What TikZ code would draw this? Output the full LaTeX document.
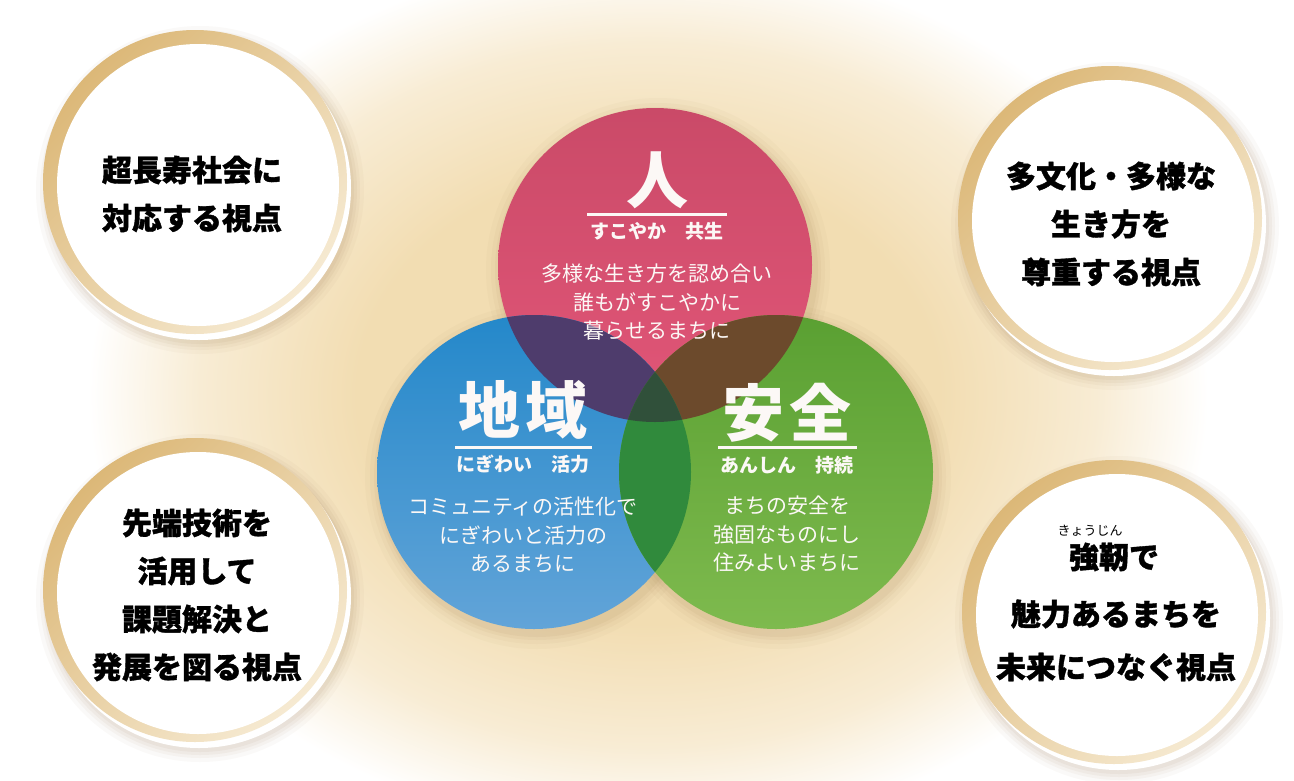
\documentclass[tikz,border=0pt]{standalone}
\usepackage{fontspec}
\newfontfamily\jp{Noto Sans CJK JP}
\newfontfamily\jpheavy{Noto Sans CJK JP}[BoldFeatures={FakeBold=1.2}]
\definecolor{glowc}{RGB}{242,221,178}
\definecolor{glowm}{RGB}{248,236,212}
\definecolor{pinkT}{RGB}{202,74,104}
\definecolor{pinkB}{RGB}{226,86,120}
\definecolor{blueT}{RGB}{36,136,202}
\definecolor{blueB}{RGB}{98,164,216}
\definecolor{greenT}{RGB}{90,160,50}
\definecolor{greenB}{RGB}{126,186,78}
\definecolor{pbc}{RGB}{78,60,108}
\definecolor{pgc}{RGB}{108,74,44}
\definecolor{bgc}{RGB}{48,138,60}
\definecolor{tric}{RGB}{48,80,58}
\definecolor{ringA}{RGB}{220,184,120}
\definecolor{ringB}{RGB}{246,234,210}
\definecolor{shadc}{RGB}{140,105,60}
\definecolor{txtw}{RGB}{252,248,246}
\pgfdeclareradialshading{glow}{\pgfpoint{0bp}{0bp}}{color(0bp)=(glowc); color(13bp)=(glowc); color(20bp)=(glowm); color(25bp)=(white); color(50bp)=(white)}
\begin{document}
\begin{tikzpicture}[x=1pt,y=-1pt,
  vcirc/.style={circle, minimum size=314pt, inner sep=0pt, outer sep=0pt},
  ringc/.style={circle, minimum size=304pt, inner sep=0pt, outer sep=0pt, top color=ringA, bottom color=ringB, shading angle=45},
  platec/.style={circle, minimum size=282pt, inner sep=0pt, outer sep=0pt, fill=white},
  ctext/.style={font=\jpheavy\bfseries\fontsize{30}{48}\selectfont, align=center, text=black, inner sep=0pt},
  rubyt/.style={font=\jp\fontsize{13}{13}\selectfont, text=black, inner sep=0pt},
  vtitle/.style={font=\jp\bfseries\fontsize{62}{62}\selectfont, text=txtw, inner sep=0pt},
  vsub/.style={font=\jp\bfseries\fontsize{19}{19}\selectfont, text=txtw, inner sep=0pt},
  vbody/.style={font=\jp\fontsize{21}{28.5}\selectfont, text=txtw, align=center, inner sep=0pt},
  uline/.style={draw=txtw, line width=3pt},
]
\useasboundingbox (0,0) rectangle (1294,780);
\fill[white] (0,0) rectangle (1294,780);
% central glow
\shade[shading=glow] (648,395) ellipse [x radius=560, y radius=440];

% corner circles
\foreach \cx/\cy/\nm in {195/182/tl, 1110/218/tr, 195/590/bl, 1114/612/br}{
  \foreach \r/\o in {164/0.035,160/0.045,157/0.055,154/0.06}
    \fill[shadc, opacity=\o] (\cx+5,\cy+8) circle (\r);
  \fill[white] (\cx+4,\cy+6) circle (152);
  \node[ringc] (\nm-ring) at (\cx,\cy) {};
  \node[platec] (\nm-plate) at (\cx+3,\cy+3) {};
}

% shadows of the three circles
\foreach \cx/\cy in {655/265, 534/472, 776/472}{
  \foreach \r/\o in {172/0.03,167/0.04,163/0.05,160/0.06}
    \fill[shadc, opacity=\o] (\cx+3,\cy+5) circle (\r);
}

% the three circles
\node[vcirc, top color=pinkT, bottom color=pinkB] (pink) at (655,265) {};
\node[vcirc, top color=blueT, bottom color=blueB] (blue) at (534,472) {};
\node[vcirc, top color=greenT, bottom color=greenB] (green) at (776,472) {};

% overlaps
\begin{scope}
  \clip (pink.center) circle (157);
  \fill[pbc] (blue.center) circle (157);
  \fill[pgc] (green.center) circle (157);
\end{scope}
\begin{scope}
  \clip (blue.center) circle (157);
  \fill[bgc] (green.center) circle (157);
  \clip (green.center) circle (157);
  \fill[tric] (pink.center) circle (157);
\end{scope}

% texts in the circles
\node[vtitle] (hito) at (657,180) {人};
\coordinate (hitoL) at (587,214);
\coordinate (hitoR) at (727,214);
\draw[uline] (hitoL) -- (hitoR);
\node[vsub] (hitosub) at (657,231) {すこやか\hspace{1em}共生};
\node[vbody] (hitobody) at (657,302) {多様な生き方を認め合い\\誰もがすこやかに\\暮らせるまちに};

\node[vtitle] (chiiki) at (523,410) {地\hspace{6pt}域};
\coordinate (chiikiL) at (455,447);
\coordinate (chiikiR) at (592,447);
\draw[uline] (chiikiL) -- (chiikiR);
\node[vsub] (chiikisub) at (523,464) {にぎわい\hspace{1em}活力};
\node[vbody] (chiikibody) at (523,535) {コミュニティの活性化で\\にぎわいと活力の\\あるまちに};

\node[vtitle] (anzen) at (787,413) {安\hspace{6pt}全};
\coordinate (anzenL) at (718,447);
\coordinate (anzenR) at (857,447);
\draw[uline] (anzenL) -- (anzenR);
\node[vsub] (anzensub) at (787,465) {あんしん\hspace{1em}持続};
\node[vbody] (anzenbody) at (787,534) {まちの安全を\\強固なものにし\\住みよいまちに};

% corner texts
\node[ctext] (tl-text) at (192,194) {超長寿社会に\\対応する視点};
\node[ctext] (tr-text) at (1111,224) {多文化・多様な\\生き方を\\尊重する視点};
\node[ctext] (bl-text) at (197,595) {先端技術を\\活用して\\課題解決と\\発展を図る視点};
\node[rubyt] (br-ruby) at (1090,531) {きょうじん};
\node[ctext] (br-text1) at (1114,557) {強靭で};
\node[ctext] (br-text2) at (1116,614) {魅力あるまちを};
\node[ctext] (br-text3) at (1116,667) {未来につなぐ視点};
\end{tikzpicture}
\end{document}
